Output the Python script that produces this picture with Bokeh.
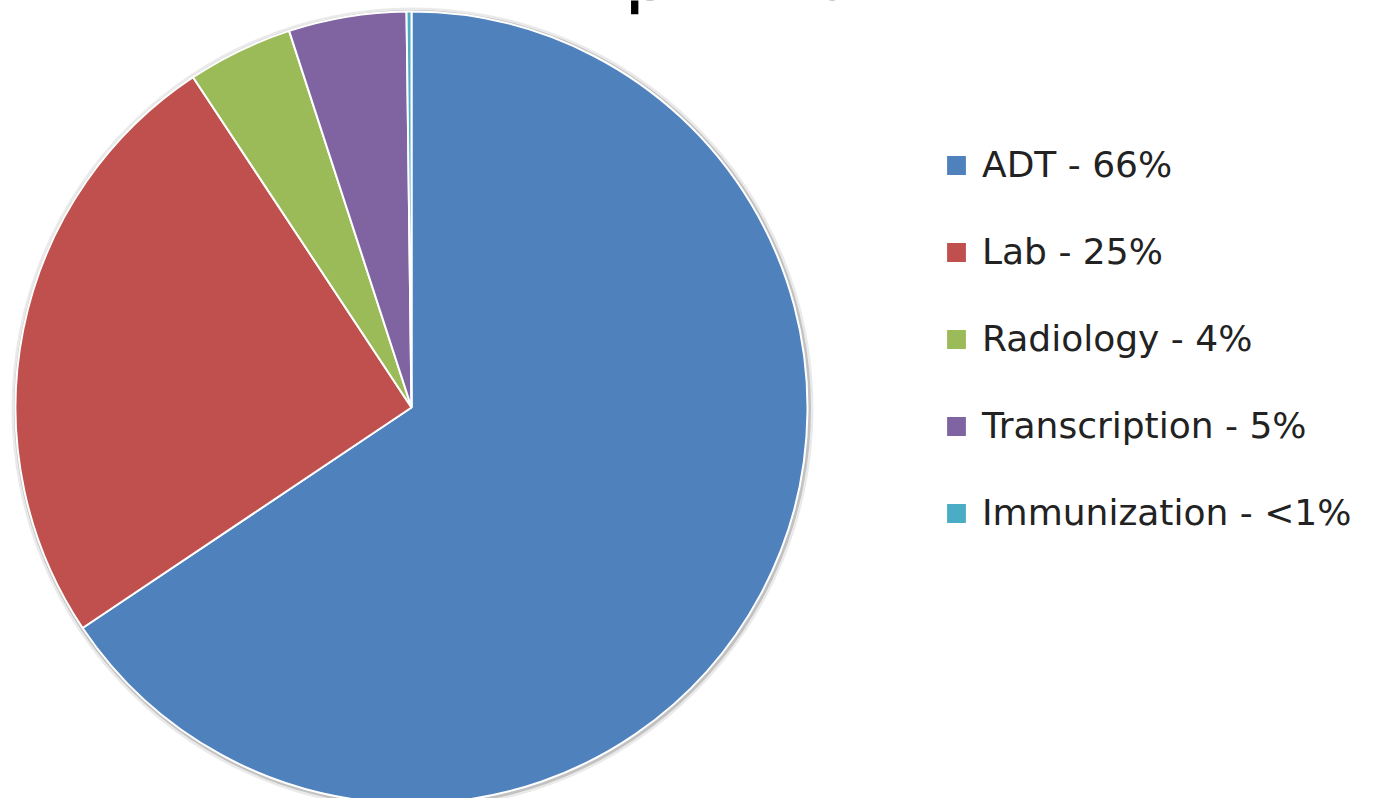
import numpy as np
from bokeh.plotting import figure
from bokeh.models import Range1d, ColumnDataSource, Legend, LegendItem
from bokeh.core.properties import value
from bokeh.embed import file_html
from bokeh.resources import INLINE

# ---- data ----
title_text = "April 2014"
categories = ["ADT", "Lab", "Radiology", "Transcription", "Immunization"]
shares = [65.6, 25.1, 4.3, 4.8, 0.2]
legend_labels = ["ADT - 66%", "Lab - 25%", "Radiology - 4%", "Transcription - 5%", "Immunization - <1%"]
colors = ["#4F81BD", "#C0504D", "#9BBB59", "#8064A2", "#4BACC6"]

W, H = 1360, 798
cx, cy, R = 411, 391, 396

frac = np.array(shares) / np.sum(shares)
cum = np.concatenate([[0], np.cumsum(frac)])
start = np.pi / 2 - cum[:-1] * 2 * np.pi
end = np.pi / 2 - cum[1:] * 2 * np.pi

src = ColumnDataSource(dict(cat=categories, start=start, end=end, color=colors,
                            label=legend_labels, x=[cx] * len(categories), y=[cy] * len(categories)))

p = figure(width=W, height=H, x_range=Range1d(0, W), y_range=Range1d(0, H),
           output_backend="svg", toolbar_location=None, min_border=0,
           x_axis_location=None, y_axis_location=None)
p.grid.visible = False
p.outline_line_color = None
p.background_fill_color = "white"

# soft shadow around pie
p.circle(x=[cx + 1], y=[cy - 1], radius=401, fill_color="#d0d0d0", fill_alpha=0.45, line_color=None)
p.circle(x=[cx + 1], y=[cy - 1], radius=398.5, fill_color="#b0b0b0", fill_alpha=0.7, line_color=None)

r = p.wedge(x="x", y="y", radius=R, start_angle="start", end_angle="end", direction="clock",
            fill_color="color", line_color="white", line_width=2, source=src)

# title (cropped at the top edge like the reference)
p.text(x=[760], y=[H + 33], text=[title_text], text_font=value("Lato"), text_font_size="82px",
       text_align="center", text_baseline="alphabetic", text_color="#000000")

items = [LegendItem(label=legend_labels[i], renderers=[r], index=i) for i in range(len(categories))]
legend = Legend(items=items, location=(943, 265), orientation="vertical",
                glyph_width=26, glyph_height=26, label_height=26,
                label_text_font="DejaVu Sans", label_text_font_size="36px",
                label_text_color="#222222", label_standoff=13, spacing=46,
                padding=0, margin=0, border_line_alpha=0, background_fill_alpha=0)
p.add_layout(legend)

open("out.html", "w").write(file_html(p, INLINE))
